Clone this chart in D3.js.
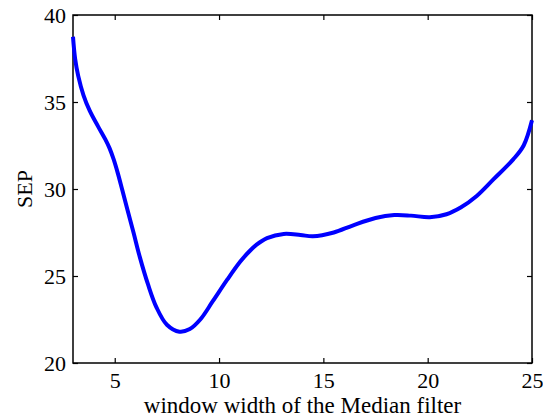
<!DOCTYPE html>
<html>
<head>
<meta charset="utf-8">
<script src="https://cdn.jsdelivr.net/npm/d3@7"></script>
<style>
  body { margin: 0; background: #fff; }
  text { font-family: "Liberation Serif", "Times New Roman", serif; }
</style>
</head>
<body>
<svg id="chart" width="543" height="419"></svg>
<script>
// curve
var windowWidth = [3.0, 3.1, 3.25, 3.5, 3.8, 4.2, 4.55, 4.75, 4.95, 5.15, 5.35, 5.6, 5.9, 6.2, 6.6, 7.0, 7.5, 8.1, 8.6, 9.1, 9.7, 10.4, 11.0, 11.4, 11.8, 12.3, 13.1, 13.9, 14.5, 15.5, 16.4, 17.5, 18.4, 19.2, 20.1, 20.9, 21.6, 22.35, 23.15, 24.1, 24.6, 25.0];
var sep = [38.75, 37.5, 36.5, 35.4, 34.5, 33.6, 32.85, 32.35, 31.7, 30.9, 30.0, 28.85, 27.5, 26.1, 24.5, 23.2, 22.2, 21.8, 21.95, 22.5, 23.55, 24.8, 25.8, 26.35, 26.8, 27.18, 27.42, 27.36, 27.28, 27.5, 27.9, 28.33, 28.5, 28.47, 28.38, 28.55, 28.95, 29.6, 30.55, 31.7, 32.5, 33.95];
var xTicks = [5, 10, 15, 20, 25];
var yTicks = [20, 25, 30, 35, 40];

var svg = d3.select("#chart");
var margin = {top: 15, right: 11, bottom: 56, left: 73};
var width = 543 - margin.left - margin.right;
var height = 419 - margin.top - margin.bottom;

var g = svg.append("g")
  .attr("transform", "translate(" + margin.left + "," + margin.top + ")");

var x = d3.scaleLinear().domain([3, 25]).range([0, width]);
var y = d3.scaleLinear().domain([20, 40]).range([height, 0]);

// box
g.append("rect")
  .attr("width", width)
  .attr("height", height)
  .attr("fill", "none")
  .attr("stroke", "#000")
  .attr("stroke-width", 1.5);

// bottom axis, ticks pointing in
var xAxis = g.append("g")
  .attr("transform", "translate(0," + height + ")")
  .call(d3.axisBottom(x).tickValues(xTicks).tickSize(-5).tickPadding(9.5));
// top ticks
var xTop = g.append("g")
  .call(d3.axisTop(x).tickValues(xTicks).tickSize(-5).tickFormat(""));
// left axis
var yAxis = g.append("g")
  .call(d3.axisLeft(y).tickValues(yTicks).tickSize(-5).tickPadding(7));
// right ticks
var yRight = g.append("g")
  .attr("transform", "translate(" + width + ",0)")
  .call(d3.axisRight(y).tickValues(yTicks).tickSize(-5).tickFormat(""));

[xAxis, xTop, yAxis, yRight].forEach(function(a) {
  a.attr("font-family", "Liberation Serif").attr("font-size", 22);
  a.select(".domain").remove();
  a.selectAll("line").attr("stroke", "#000").attr("stroke-width", 1.2);
  a.selectAll("text").attr("fill", "#000");
});

// the curve
var line = d3.line()
  .x(function(d, i) { return x(windowWidth[i]); })
  .y(function(d) { return y(d); })
  .curve(d3.curveCatmullRom);

g.append("path")
  .datum(sep)
  .attr("d", line)
  .attr("fill", "none")
  .attr("stroke", "#0000ff")
  .attr("stroke-width", 4)
  .attr("stroke-linejoin", "round");

// labels
svg.append("text")
  .attr("x", margin.left + width / 2)
  .attr("y", 413)
  .attr("text-anchor", "middle")
  .attr("font-size", "23px")
  .text("window width of the Median filter");

svg.append("text")
  .attr("transform", "rotate(-90)")
  .attr("x", -189)
  .attr("y", 32)
  .attr("text-anchor", "middle")
  .attr("font-size", "22px")
  .text("SEP");
</script>
</body>
</html>
